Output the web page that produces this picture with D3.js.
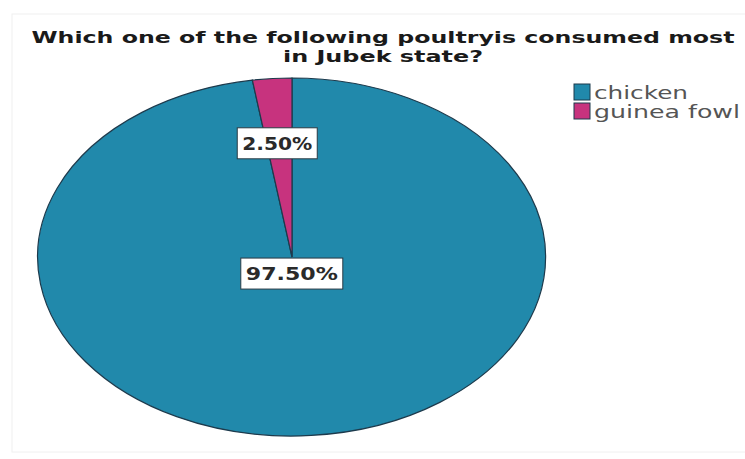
<!DOCTYPE html>
<html><head><meta charset="utf-8">
<script src="https://cdn.jsdelivr.net/npm/d3@7"></script>
<style>body{margin:0;background:#fff}</style>
</head><body>
<svg id="c" width="745" height="459"></svg>
<script>
const categories = ["chicken", "guinea fowl"];
const values = [97.5, 2.5];
const labels = ["97.50%", "2.50%"];
const colors = ["#2189ab", "#c7337e"];
const titleLines = ["Which one of the following poultryis consumed most", "in Jubek state?"];

const svg = d3.select("#c");
svg.append("rect").attr("x",12).attr("y",14).attr("width",740).attr("height",438)
  .attr("fill","none").attr("stroke","#f0f0f0").attr("stroke-width",1);

const titleW = [703, 200];
svg.selectAll("text.title").data(titleLines).enter().append("text")
  .attr("class","title")
  .attr("x",383).attr("y",(d,i)=>43+i*19).attr("text-anchor","middle")
  .attr("font-family","'DejaVu Sans', Verdana, sans-serif").attr("font-weight","bold")
  .attr("font-size",16).attr("fill","#1a1a1a")
  .attr("textLength",(d,i)=>titleW[i]).attr("lengthAdjust","spacingAndGlyphs")
  .text(d=>d);

const cx=292, cy=257, rx=254, ry=179;
const pie = d3.pie().sort(null).value(d=>d)(values);
const arc = d3.arc().innerRadius(0).outerRadius(1);
const g = svg.append("g").attr("transform",`translate(${cx},${cy}) scale(${rx},${ry})`);
g.selectAll("path").data(pie).enter().append("path")
  .attr("d",arc).attr("fill",(d,i)=>colors[i])
  .attr("stroke","#1d3a4c").attr("stroke-width",1.2)
  .attr("vector-effect","non-scaling-stroke");

const labelR = [0.09, 0.64];
const labelW = [92, 70];
const lab = svg.append("g");
pie.forEach((d,i)=>{
  const a = d3.arc().innerRadius(labelR[i]).outerRadius(labelR[i]);
  const [px,py] = a.centroid(d);
  const x = cx + px*rx - 2, y = cy + py*ry;
  const t = lab.append("text").attr("x",x).attr("y",y+7).attr("text-anchor","middle")
    .attr("font-family","'DejaVu Sans', Verdana, sans-serif").attr("font-weight","bold")
    .attr("font-size",18).attr("fill","#2a2a2a")
    .attr("textLength",labelW[i]).attr("lengthAdjust","spacingAndGlyphs")
    .text(labels[i]);
  const w = labelW[i] + 10;
  lab.insert("rect", () => t.node()).attr("x",x-w/2).attr("y",y-15).attr("width",w).attr("height",31)
    .attr("fill","#fff").attr("stroke","#2a3a44").attr("stroke-width",1);
});

const legW = [94, 146];
const leg = svg.append("g");
categories.forEach((c,i)=>{
  leg.append("rect").attr("x",574).attr("y",84+i*19).attr("width",16).attr("height",16)
    .attr("fill",colors[i]).attr("stroke","#1d3a4c").attr("stroke-width",1);
  leg.append("text").attr("x",594).attr("y",99+i*19)
    .attr("font-family","'DejaVu Sans', Verdana, sans-serif")
    .attr("font-size",18).attr("fill","#555")
    .attr("textLength",legW[i]).attr("lengthAdjust","spacingAndGlyphs")
    .text(c);
});
</script>
</body></html>
